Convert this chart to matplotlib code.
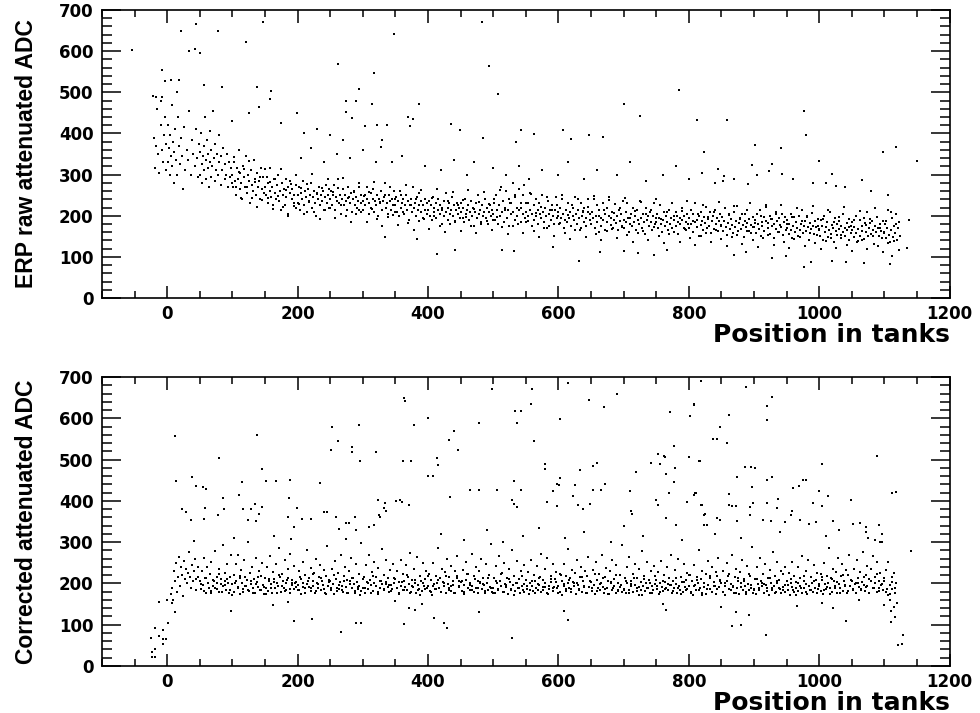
import matplotlib
matplotlib.use('Agg')
import matplotlib.pyplot as plt
from matplotlib.ticker import MultipleLocator

# ---- top panel: raw attenuated ADC vs position ----
top_bins = [
    ([-22, -20, -18, -17, -15, -14, -12, -10, -9, -8, -6, -5, -3, -2, -1],
     [490, 390, 315, 370, 460, 350, 305, 420, 480, 360, 330, 395, 440, 375, 310]),
    ([1, 2, 3, 4, 5, 6, 7, 8, 9, 10, 11, 12, 14, 15, 17, 18, 20, 21, 23, 24, 26, 28, 30, 32, 34, 36, 38, 40, 42, 44, 46, 48, 49],
     [330, 420, 365, 300, 395, 345, 470, 320, 380, 355, 280, 410, 335, 300, 440, 370, 325, 390, 345, 265, 415, 310, 360, 335, 455, 300, 385, 350, 320, 410, 340, 295, 375]),
    ([50, 51, 52, 53, 54, 55, 56, 57, 58, 59, 60, 61, 62, 63, 64, 65, 66, 67, 68, 69, 70, 72, 73, 74, 75, 76, 78, 79, 80, 82, 83, 84, 86, 88, 89, 90, 92, 93, 95, 96, 98, 99],
     [355, 300, 400, 325, 280, 345, 370, 310, 440, 290, 335, 385, 315, 350, 270, 405, 330, 295, 360, 320, 455, 340, 285, 375, 310, 350, 300, 395, 330, 275, 345, 310, 365, 290, 325, 300, 350, 270, 330, 295, 315, 280]),
    ([100, 101, 103, 104, 105, 107, 108, 110, 111, 112, 114, 115, 117, 118, 120, 121, 123, 124, 126, 127, 129, 130, 132, 133, 135, 136, 138, 140, 141, 143, 144, 146, 147, 149],
     [300, 270, 330, 285, 250, 315, 290, 360, 265, 305, 280, 240, 320, 295, 270, 345, 255, 300, 285, 230, 310, 275, 260, 335, 290, 250, 305, 270, 285, 240, 315, 265, 295, 255]),
    ([150, 151, 153, 154, 155, 157, 158, 160, 161, 162, 164, 165, 167, 168, 170, 171, 173, 174, 176, 177, 179, 180, 182, 183, 185, 186, 188, 189, 191, 192, 194, 195, 197, 198],
     [270, 250, 295, 230, 280, 260, 315, 245, 270, 225, 290, 255, 240, 275, 300, 235, 260, 215, 280, 250, 265, 225, 290, 245, 270, 200, 255, 285, 240, 265, 230, 250, 275, 220]),
    ([200, 201, 203, 204, 206, 207, 209, 210, 212, 213, 215, 216, 218, 219, 221, 222, 224, 225, 227, 228, 230, 231, 233, 234, 236, 237, 239, 240, 242, 243, 245, 246, 248, 249],
     [250, 230, 270, 215, 255, 240, 285, 225, 260, 245, 210, 265, 235, 250, 280, 220, 245, 260, 230, 200, 255, 240, 270, 225, 250, 235, 260, 215, 245, 275, 230, 250, 220, 265]),
    ([250, 252, 253, 255, 256, 258, 259, 261, 262, 264, 265, 267, 268, 270, 271, 273, 274, 276, 277, 279, 280, 282, 283, 285, 286, 288, 289, 291, 292, 294, 295, 297, 298],
     [240, 260, 225, 250, 275, 215, 245, 235, 290, 230, 250, 205, 240, 265, 225, 250, 235, 215, 270, 245, 230, 255, 210, 240, 260, 225, 245, 220, 235, 270, 215, 250, 230]),
    ([300, 301, 303, 304, 306, 307, 309, 310, 312, 313, 315, 316, 318, 319, 321, 322, 324, 325, 327, 328, 330, 331, 333, 334, 336, 337, 339, 340, 342, 343, 345, 346, 348, 349],
     [235, 215, 250, 225, 270, 240, 205, 230, 255, 220, 240, 265, 210, 235, 225, 250, 200, 240, 230, 260, 215, 235, 245, 280, 220, 230, 205, 250, 235, 215, 240, 225, 260, 210]),
    ([350, 351, 353, 354, 356, 357, 359, 360, 362, 363, 365, 366, 368, 369, 371, 372, 374, 375, 377, 378, 380, 381, 383, 384, 386, 387, 389, 390, 392, 393, 395, 396, 398, 399],
     [225, 245, 210, 235, 200, 260, 220, 230, 240, 205, 225, 250, 215, 235, 190, 225, 240, 210, 270, 220, 230, 200, 245, 215, 225, 255, 210, 235, 195, 225, 240, 215, 230, 205]),
    ([400, 401, 403, 404, 406, 407, 409, 410, 412, 413, 415, 416, 418, 419, 421, 422, 424, 425, 427, 428, 430, 431, 433, 434, 436, 437, 439, 440, 442, 443, 445, 446, 448, 449],
     [215, 235, 200, 225, 190, 245, 210, 220, 230, 195, 215, 240, 205, 225, 180, 215, 235, 200, 255, 210, 220, 190, 230, 205, 215, 245, 200, 225, 185, 215, 230, 205, 220, 195]),
    ([450, 451, 453, 454, 456, 457, 459, 460, 462, 463, 465, 466, 468, 469, 471, 472, 474, 475, 477, 478, 480, 481, 483, 484, 486, 487, 489, 490, 492, 493, 495, 496, 498, 499],
     [210, 230, 195, 220, 185, 240, 205, 215, 225, 190, 210, 235, 200, 220, 175, 210, 230, 195, 250, 205, 215, 185, 225, 200, 210, 240, 195, 220, 180, 210, 225, 200, 215, 190]),
    ([500, 501, 503, 504, 506, 507, 509, 510, 512, 513, 515, 516, 518, 519, 521, 522, 524, 525, 527, 528, 530, 531, 533, 534, 536, 537, 539, 540, 542, 543, 545, 546, 548, 549],
     [205, 230, 190, 250, 215, 180, 225, 200, 270, 210, 235, 185, 220, 260, 195, 215, 240, 175, 230, 205, 280, 210, 190, 245, 220, 200, 265, 215, 185, 230, 250, 205, 275, 195]),
    ([550, 551, 553, 554, 556, 557, 559, 560, 562, 563, 565, 566, 568, 569, 571, 572, 574, 575, 577, 578, 580, 581, 583, 584, 586, 587, 589, 590, 592, 593, 595, 596, 598, 599],
     [210, 185, 230, 200, 255, 215, 175, 205, 225, 190, 240, 200, 215, 180, 230, 205, 195, 250, 210, 185, 220, 200, 170, 235, 205, 215, 190, 225, 200, 180, 215, 245, 195, 210]),
    ([600, 601, 603, 604, 606, 607, 609, 610, 612, 613, 615, 616, 618, 619, 621, 622, 624, 625, 627, 628, 630, 631, 633, 634, 636, 637, 639, 640, 642, 643, 645, 646, 648, 649],
     [200, 180, 220, 195, 240, 205, 170, 190, 215, 185, 230, 195, 210, 175, 225, 200, 190, 245, 205, 180, 215, 195, 165, 230, 200, 210, 185, 220, 195, 175, 210, 240, 190, 205]),
    ([650, 651, 653, 654, 656, 657, 659, 660, 662, 663, 665, 666, 668, 669, 671, 672, 674, 675, 677, 678, 680, 681, 683, 684, 686, 687, 689, 690, 692, 693, 695, 696, 698, 699],
     [180, 210, 195, 240, 170, 200, 225, 185, 160, 215, 195, 175, 230, 190, 205, 165, 220, 185, 200, 245, 178, 195, 210, 170, 190, 228, 182, 200, 165, 215, 188, 205, 172, 235]),
    ([700, 701, 703, 704, 706, 707, 709, 710, 712, 713, 715, 716, 718, 719, 721, 722, 724, 725, 727, 728, 730, 731, 733, 734, 736, 737, 739, 740, 742, 743, 745, 746, 748, 749],
     [190, 170, 210, 185, 230, 195, 160, 180, 205, 175, 220, 185, 200, 165, 215, 190, 180, 235, 195, 170, 205, 185, 155, 220, 190, 200, 175, 210, 185, 165, 200, 230, 180, 195]),
    ([750, 751, 753, 754, 756, 757, 759, 760, 762, 763, 765, 766, 768, 769, 771, 772, 774, 775, 777, 778, 780, 781, 783, 784, 786, 787, 789, 790, 792, 793, 795, 796, 798, 799],
     [185, 205, 170, 195, 225, 180, 160, 190, 210, 175, 200, 185, 165, 215, 180, 195, 230, 170, 190, 200, 175, 210, 185, 155, 195, 180, 220, 190, 170, 200, 185, 165, 205, 180]),
    ([800, 801, 803, 804, 806, 807, 809, 810, 812, 813, 815, 816, 818, 819, 821, 822, 824, 825, 827, 828, 830, 831, 833, 834, 836, 837, 839, 840, 842, 843, 845, 846, 848, 849],
     [195, 170, 215, 180, 160, 205, 185, 230, 172, 190, 150, 200, 178, 210, 188, 165, 198, 182, 222, 170, 192, 176, 208, 158, 186, 200, 168, 215, 180, 195, 162, 188, 205, 174]),
    ([850, 851, 853, 854, 856, 857, 859, 860, 862, 863, 865, 866, 868, 869, 871, 872, 874, 875, 877, 878, 880, 881, 883, 884, 886, 887, 889, 890, 892, 893, 895, 896, 898, 899],
     [178, 198, 163, 188, 218, 173, 153, 183, 203, 168, 193, 178, 158, 208, 173, 188, 223, 163, 183, 193, 168, 203, 178, 148, 188, 173, 213, 183, 163, 193, 178, 158, 198, 173]),
    ([900, 901, 903, 904, 906, 907, 909, 910, 912, 913, 915, 916, 918, 919, 921, 922, 924, 925, 927, 928, 930, 931, 933, 934, 936, 937, 939, 940, 942, 943, 945, 946, 948, 949],
     [172, 190, 158, 205, 180, 168, 215, 150, 185, 176, 198, 162, 188, 225, 170, 182, 155, 200, 175, 192, 145, 180, 210, 168, 186, 160, 195, 178, 172, 205, 152, 184, 198, 166]),
    ([950, 951, 953, 954, 956, 957, 959, 960, 962, 963, 965, 966, 968, 969, 971, 972, 974, 975, 977, 978, 980, 981, 983, 984, 986, 987, 989, 990, 992, 993, 995, 996, 998, 999],
     [170, 190, 155, 180, 205, 165, 145, 175, 198, 160, 185, 170, 150, 200, 165, 180, 215, 158, 176, 188, 162, 196, 172, 140, 182, 168, 206, 176, 155, 188, 172, 152, 192, 166]),
    ([1000, 1001, 1003, 1004, 1006, 1007, 1009, 1010, 1012, 1013, 1015, 1016, 1018, 1019, 1021, 1022, 1024, 1025, 1027, 1028, 1030, 1031, 1033, 1034, 1036, 1037, 1039, 1040, 1042, 1043, 1045, 1046, 1048, 1049],
     [168, 150, 190, 175, 140, 200, 160, 172, 185, 148, 165, 210, 155, 178, 170, 135, 195, 162, 180, 152, 168, 188, 145, 175, 160, 205, 170, 150, 182, 165, 142, 192, 158, 174]),
    ([1050, 1051, 1053, 1054, 1056, 1057, 1059, 1060, 1062, 1063, 1065, 1066, 1068, 1069, 1071, 1072, 1074, 1075, 1077, 1078, 1080, 1081, 1083, 1084, 1086, 1087, 1089, 1090, 1092, 1093, 1095, 1096, 1098, 1099],
     [165, 185, 148, 172, 200, 158, 138, 168, 190, 150, 175, 162, 143, 195, 160, 178, 210, 150, 170, 182, 155, 188, 165, 132, 176, 160, 198, 170, 150, 180, 164, 145, 186, 158]),
    ([1100, 1101, 1103, 1104, 1106, 1107, 1109, 1110, 1112, 1113, 1115, 1116, 1118, 1119, 1121, 1122, 1124],
     [160, 180, 145, 170, 215, 152, 135, 165, 195, 148, 175, 158, 205, 142, 170, 185, 150]),
]

# wider spread of the band
top_fill = [
    (102, 342), (106, 269), (110, 307), (114, 243), (118, 314), (122, 270), (126, 334), (130, 242),
    (134, 283), (138, 222), (142, 295), (146, 239), (150, 313), (154, 242), (158, 281), (162, 217),
    (166, 290), (170, 247), (174, 313), (178, 221), (182, 263), (186, 204), (190, 278), (194, 224),
    (198, 299), (202, 228), (206, 267), (210, 204), (214, 277), (218, 234), (222, 301), (226, 210),
    (230, 252), (234, 193), (238, 267), (242, 214), (246, 289), (250, 218), (254, 257), (258, 194),
    (262, 268), (266, 225), (270, 291), (274, 200), (278, 242), (282, 184), (286, 258), (290, 204),
    (294, 279), (298, 208), (302, 248), (306, 185), (310, 258), (314, 216), (318, 282), (322, 191),
    (326, 234), (330, 175), (334, 250), (338, 196), (342, 271), (346, 201), (350, 240), (354, 177),
    (358, 250), (362, 208), (366, 274), (370, 183), (374, 225), (378, 166), (382, 241), (386, 187),
    (390, 262), (394, 191), (398, 230), (402, 168), (406, 242), (410, 199), (414, 266), (418, 176),
    (422, 218), (426, 160), (430, 235), (434, 181), (438, 257), (442, 187), (446, 226), (450, 164),
    (454, 238), (458, 196), (462, 263), (466, 174), (470, 217), (474, 159), (478, 234), (482, 181),
    (486, 257), (490, 188), (494, 228), (498, 166), (502, 240), (506, 197), (510, 263), (514, 172),
    (518, 214), (522, 156), (526, 230), (530, 176), (534, 251), (538, 180), (542, 220), (546, 157),
    (550, 230), (554, 188), (558, 254), (562, 164), (566, 206), (570, 148), (574, 222), (578, 169),
    (582, 245), (586, 174), (590, 214), (594, 151), (598, 225), (602, 183), (606, 250), (610, 159),
    (614, 202), (618, 144), (622, 219), (626, 165), (630, 241), (634, 171), (638, 211), (642, 148),
    (646, 222), (650, 180), (654, 247), (658, 156), (662, 199), (666, 141), (670, 215), (674, 162),
    (678, 238), (682, 167), (686, 207), (690, 145), (694, 218), (698, 176), (702, 243), (706, 153),
    (710, 195), (714, 137), (718, 212), (722, 159), (726, 234), (730, 164), (734, 204), (738, 142),
    (742, 215), (746, 173), (750, 240), (754, 150), (758, 192), (762, 134), (766, 208), (770, 155),
    (774, 230), (778, 160), (782, 200), (786, 137), (790, 211), (794, 168), (798, 235), (802, 145),
    (806, 188), (810, 130), (814, 204), (818, 151), (822, 227), (826, 157), (830, 197), (834, 135),
    (838, 208), (842, 166), (846, 233), (850, 143), (854, 186), (858, 127), (862, 202), (866, 149),
    (870, 224), (874, 154), (878, 194), (882, 132), (886, 205), (890, 163), (894, 230), (898, 140),
    (902, 183), (906, 125), (910, 199), (914, 146), (918, 222), (922, 152), (926, 191), (930, 129),
    (934, 203), (938, 161), (942, 227), (946, 137), (950, 180), (954, 122), (958, 196), (962, 143),
    (966, 219), (970, 148), (974, 188), (978, 126), (982, 199), (986, 157), (990, 224), (994, 133),
    (998, 176), (1002, 118), (1006, 193), (1010, 139), (1014, 215), (1018, 145), (1022, 185), (1026, 122),
    (1030, 196), (1034, 154), (1038, 221), (1042, 130), (1046, 173), (1050, 115), (1054, 190), (1058, 137),
    (1062, 212), (1066, 142), (1070, 182), (1074, 119), (1078, 193), (1082, 151), (1086, 218), (1090, 127),
    (1094, 170), (1098, 112), (1102, 187), (1106, 134), (1110, 209), (1114, 139), (1118, 179), (1122, 116),
]

top_outliers = [
    (44, 667), (21, 650), (78, 650), (121, 621), (34, 600), (42, 605), (50, 595), (147, 672),
    (-8, 553), (-3, 527), (6, 529), (18, 529), (15, 500), (-54, 602), (-17, 488), (-8, 488),
    (262, 568), (317, 546), (294, 507), (160, 502), (158, 483), (138, 514), (84, 514), (57, 517),
    (199, 449), (141, 464), (275, 451), (290, 478), (275, 478), (284, 437), (304, 417), (322, 420),
    (337, 420), (314, 471), (348, 641), (483, 672), (494, 563), (508, 495), (387, 471), (370, 439),
    (377, 434), (373, 417), (436, 422), (449, 408), (485, 388), (535, 379), (543, 408), (563, 398),
    (607, 408), (620, 386), (647, 396), (669, 391), (701, 471), (725, 442), (785, 505), (813, 432),
    (824, 354), (330, 383), (328, 366), (859, 432), (977, 454), (979, 395), (902, 371), (942, 364),
    (1000, 332), (1118, 366), (1150, 334), (1098, 354), (897, 323), (928, 325), (923, 308), (943, 301),
    (1020, 301), (854, 296), (853, 284), (845, 313), (1066, 288), (891, 276), (991, 279), (1011, 279),
    (1025, 272), (1137, 189),
    (100, 430), (125, 450), (175, 425), (210, 400), (230, 410), (250, 395), (270, 385),
    (205, 340), (220, 365), (240, 330), (260, 350), (280, 340), (300, 360), (320, 330),
    (345, 330), (360, 345), (395, 320), (420, 310), (440, 335), (460, 300), (470, 330), (500, 315),
    (520, 300), (540, 320), (555, 290), (575, 310), (600, 300), (615, 330), (640, 290), (660, 310),
    (690, 300), (710, 330), (735, 285), (760, 300), (780, 320), (800, 290), (820, 305), (840, 280),
    (870, 290), (905, 300), (960, 290), (1040, 270), (1080, 260), (1105, 250),
    (414, 107), (632, 90), (441, 116), (592, 124), (514, 116), (532, 114), (747, 104), (701, 114),
    (722, 109), (767, 116), (664, 112), (383, 143), (334, 148), (1135, 121), (1109, 82), (977, 75),
    (988, 87), (928, 97), (949, 102), (1020, 90), (1041, 87), (1069, 85), (1112, 102), (870, 104),
    (888, 112),
]

# ---- bottom panel: corrected attenuated ADC vs position ----
bot_bins = [
    ([6, 8, 9, 11, 12, 14, 15, 17, 18, 20, 21, 23, 24, 26, 27, 29, 30, 32, 33, 35, 36, 38, 39, 41, 42, 44, 45, 47, 48],
     [175, 190, 160, 230, 205, 250, 180, 215, 265, 195, 240, 220, 170, 255, 210, 235, 200, 225, 275, 215, 190, 245, 205, 230, 260, 210, 185, 240, 215]),
    ([50, 52, 53, 55, 56, 58, 59, 61, 62, 64, 65, 67, 68, 70, 71, 73, 74, 76, 77, 79, 80, 82, 83, 85, 86, 88, 89, 91, 92, 94, 95, 97, 98],
     [205, 186, 231, 196, 262, 212, 178, 241, 201, 190, 223, 182, 252, 208, 195, 278, 188, 216, 200, 236, 180, 211, 198, 292, 193, 226, 205, 185, 246, 201, 176, 216, 268]),
    ([100, 102, 103, 105, 106, 108, 109, 111, 112, 114, 115, 117, 118, 120, 121, 123, 124, 126, 127, 129, 130, 132, 133, 135, 136, 138, 139, 141, 142, 144, 145, 147, 148],
     [198, 221, 180, 246, 205, 191, 270, 213, 175, 232, 200, 186, 256, 215, 194, 208, 301, 182, 225, 198, 241, 188, 210, 178, 262, 203, 192, 230, 185, 218, 250, 196, 174]),
    ([150, 152, 153, 155, 156, 158, 159, 161, 162, 164, 165, 167, 168, 170, 171, 173, 174, 176, 177, 179, 180, 182, 183, 185, 186, 188, 189, 191, 192, 194, 195, 197, 198],
     [212, 190, 240, 182, 205, 266, 198, 176, 228, 210, 188, 248, 202, 194, 285, 216, 180, 222, 206, 190, 258, 184, 200, 236, 214, 178, 272, 196, 208, 186, 242, 204, 192]),
    ([200, 202, 203, 205, 206, 208, 209, 211, 212, 214, 215, 217, 218, 220, 221, 223, 224, 226, 227, 229, 230, 232, 233, 235, 236, 238, 239, 241, 242, 244, 245, 247, 248],
     [196, 230, 184, 210, 175, 252, 202, 188, 220, 198, 280, 192, 214, 181, 238, 206, 195, 226, 178, 260, 200, 189, 215, 245, 183, 207, 197, 232, 176, 218, 290, 194, 209]),
    ([250, 252, 253, 255, 256, 258, 259, 261, 262, 264, 265, 267, 268, 270, 271, 273, 274, 276, 277, 279, 280, 282, 283, 285, 286, 288, 289, 291, 292, 294, 295, 297, 298],
     [207, 183, 236, 199, 174, 255, 211, 190, 226, 186, 203, 270, 195, 180, 218, 240, 192, 209, 177, 231, 205, 262, 188, 214, 198, 178, 248, 203, 186, 222, 194, 298, 181]),
    ([300, 302, 303, 305, 306, 308, 309, 311, 312, 314, 315, 317, 318, 320, 321, 323, 324, 326, 327, 329, 330, 332, 333, 335, 336, 338, 339, 341, 342, 344, 345, 347, 348],
     [190, 215, 178, 244, 203, 186, 268, 209, 197, 227, 181, 252, 200, 193, 216, 175, 238, 206, 188, 284, 198, 221, 183, 204, 257, 192, 212, 179, 233, 196, 187, 246, 201]),
    ([350, 352, 353, 355, 356, 358, 359, 361, 362, 364, 365, 367, 368, 370, 371, 373, 374, 376, 377, 379, 380, 382, 383, 385, 386, 388, 389, 391, 392, 394, 395, 397, 398],
     [210, 188, 229, 176, 203, 258, 194, 183, 222, 206, 191, 245, 185, 215, 198, 274, 180, 209, 192, 236, 201, 178, 263, 196, 187, 218, 205, 182, 250, 193, 211, 230, 189]),
    ([400, 402, 403, 405, 406, 408, 409, 411, 412, 414, 415, 417, 418, 420, 421, 423, 424, 426, 427, 429, 430, 432, 433, 435, 436, 438, 439, 441, 442, 444, 445, 447, 448],
     [195, 224, 182, 208, 173, 249, 199, 187, 218, 202, 286, 190, 213, 180, 235, 204, 194, 227, 176, 259, 198, 188, 216, 243, 181, 206, 196, 231, 177, 219, 266, 193, 207]),
    ([450, 452, 453, 455, 456, 458, 459, 461, 462, 464, 465, 467, 468, 470, 471, 473, 474, 476, 477, 479, 480, 482, 483, 485, 486, 488, 489, 491, 492, 494, 495, 497, 498],
     [204, 182, 233, 197, 175, 253, 209, 189, 224, 185, 201, 272, 193, 179, 217, 239, 190, 207, 176, 230, 203, 260, 186, 212, 196, 177, 247, 201, 185, 221, 192, 295, 180]),
    ([500, 502, 503, 505, 506, 508, 509, 511, 512, 514, 515, 517, 518, 520, 521, 523, 524, 526, 527, 529, 530, 532, 533, 535, 536, 538, 539, 541, 542, 544, 545, 547, 548],
     [188, 213, 177, 242, 201, 185, 266, 207, 195, 225, 180, 250, 198, 191, 214, 174, 236, 204, 186, 281, 196, 219, 182, 202, 255, 190, 210, 178, 231, 194, 185, 244, 199]),
    ([550, 552, 553, 555, 556, 558, 559, 561, 562, 564, 565, 567, 568, 570, 571, 573, 574, 576, 577, 579, 580, 582, 583, 585, 586, 588, 589, 591, 592, 594, 595, 597, 598],
     [209, 187, 228, 175, 202, 256, 193, 182, 221, 205, 190, 243, 184, 214, 197, 271, 179, 208, 191, 234, 200, 177, 261, 195, 186, 217, 204, 181, 248, 192, 210, 228, 188]),
    ([600, 602, 603, 605, 606, 608, 609, 611, 612, 614, 615, 617, 618, 620, 621, 623, 624, 626, 627, 629, 630, 632, 633, 635, 636, 638, 639, 641, 642, 644, 645, 647, 648],
     [194, 222, 180, 207, 173, 247, 198, 186, 217, 201, 283, 189, 212, 179, 233, 203, 193, 225, 175, 257, 197, 187, 215, 241, 180, 205, 195, 229, 176, 218, 264, 192, 206]),
    ([650, 652, 653, 655, 656, 658, 659, 661, 662, 664, 665, 667, 668, 670, 671, 673, 674, 676, 677, 679, 680, 682, 683, 685, 686, 688, 689, 691, 692, 694, 695, 697, 698],
     [203, 181, 232, 196, 174, 251, 208, 188, 223, 184, 200, 270, 192, 178, 216, 237, 189, 206, 175, 229, 202, 258, 185, 211, 195, 176, 245, 200, 184, 220, 191, 292, 179]),
    ([700, 702, 703, 705, 706, 708, 709, 711, 712, 714, 715, 717, 718, 720, 721, 723, 724, 726, 727, 729, 730, 732, 733, 735, 736, 738, 739, 741, 742, 744, 745, 747, 748],
     [187, 212, 176, 240, 200, 184, 264, 206, 194, 224, 179, 248, 197, 190, 213, 173, 234, 203, 185, 279, 195, 218, 181, 201, 253, 189, 209, 177, 230, 193, 184, 242, 198]),
    ([750, 752, 753, 755, 756, 758, 759, 761, 762, 764, 765, 767, 768, 770, 771, 773, 774, 776, 777, 779, 780, 782, 783, 785, 786, 788, 789, 791, 792, 794, 795, 797, 798],
     [208, 186, 227, 174, 201, 254, 192, 181, 220, 204, 189, 241, 183, 213, 196, 268, 178, 207, 190, 232, 199, 176, 259, 194, 185, 216, 203, 180, 246, 191, 209, 226, 187]),
    ([800, 802, 803, 805, 806, 808, 809, 811, 812, 814, 815, 817, 818, 820, 821, 823, 824, 826, 827, 829, 830, 832, 833, 835, 836, 838, 839, 841, 842, 844, 845, 847, 848],
     [193, 221, 179, 206, 172, 245, 197, 185, 216, 200, 281, 188, 211, 178, 231, 202, 192, 224, 174, 255, 196, 186, 214, 239, 179, 204, 194, 228, 175, 217, 262, 191, 205]),
    ([850, 852, 853, 855, 856, 858, 859, 861, 862, 864, 865, 867, 868, 870, 871, 873, 874, 876, 877, 879, 880, 882, 883, 885, 886, 888, 889, 891, 892, 894, 895, 897, 898],
     [202, 180, 231, 195, 173, 249, 207, 187, 222, 183, 199, 268, 191, 177, 215, 236, 188, 205, 174, 228, 201, 256, 184, 210, 194, 175, 243, 199, 183, 219, 190, 289, 178]),
    ([900, 902, 903, 905, 906, 908, 909, 911, 912, 914, 915, 917, 918, 920, 921, 923, 924, 926, 927, 929, 930, 932, 933, 935, 936, 938, 939, 941, 942, 944, 945, 947, 948],
     [186, 211, 175, 239, 199, 183, 262, 205, 193, 223, 178, 246, 196, 189, 212, 172, 233, 202, 184, 277, 194, 217, 180, 200, 251, 188, 208, 176, 229, 192, 183, 240, 197]),
    ([950, 952, 953, 955, 956, 958, 959, 961, 962, 964, 965, 967, 968, 970, 971, 973, 974, 976, 977, 979, 980, 982, 983, 985, 986, 988, 989, 991, 992, 994, 995, 997, 998],
     [207, 185, 226, 173, 200, 252, 191, 180, 219, 203, 188, 240, 182, 212, 195, 266, 177, 206, 189, 231, 198, 175, 257, 193, 184, 215, 202, 179, 244, 190, 208, 225, 186]),
    ([1000, 1002, 1003, 1005, 1006, 1008, 1009, 1011, 1012, 1014, 1015, 1017, 1018, 1020, 1021, 1023, 1024, 1026, 1027, 1029, 1030, 1032, 1033, 1035, 1036, 1038, 1039, 1041, 1042, 1044, 1045, 1047, 1048],
     [195, 223, 181, 208, 174, 250, 199, 187, 219, 202, 285, 190, 214, 180, 236, 205, 194, 228, 176, 262, 199, 188, 217, 246, 181, 207, 197, 233, 177, 221, 270, 194, 209]),
    ([1050, 1052, 1053, 1055, 1056, 1058, 1059, 1061, 1062, 1064, 1065, 1067, 1068, 1070, 1071, 1073, 1074, 1076, 1077, 1079, 1080, 1082, 1083, 1085, 1086, 1088, 1089, 1091, 1092, 1094, 1095, 1097, 1098],
     [206, 184, 236, 199, 176, 258, 212, 191, 228, 187, 204, 276, 196, 181, 221, 243, 193, 211, 178, 236, 207, 266, 190, 216, 200, 180, 252, 206, 189, 226, 197, 300, 184]),
    ([1100, 1102, 1103, 1105, 1106, 1108, 1109, 1111, 1112, 1114, 1115, 1117, 1118, 1120],
     [205, 180, 232, 172, 252, 196, 160, 215, 186, 142, 226, 176, 200, 152]),
]

# dense core of the corrected band (170-225)
bot_fill_x = [
    52, 56, 60, 64, 68, 72, 76, 80, 84, 88, 92, 96, 100, 104, 108, 112, 116, 120,
    124, 128, 132, 136, 140, 144, 148, 152, 156, 160, 164, 168, 172, 176, 180, 184, 188, 192,
    196, 200, 204, 208, 212, 216, 220, 224, 228, 232, 236, 240, 244, 248, 252, 256, 260, 264,
    268, 272, 276, 280, 284, 288, 292, 296, 300, 304, 308, 312, 316, 320, 324, 328, 332, 336,
    340, 344, 348, 352, 356, 360, 364, 368, 372, 376, 380, 384, 388, 392, 396, 400, 404, 408,
    412, 416, 420, 424, 428, 432, 436, 440, 444, 448, 452, 456, 460, 464, 468, 472, 476, 480,
    484, 488, 492, 496, 500, 504, 508, 512, 516, 520, 524, 528, 532, 536, 540, 544, 548, 552,
    556, 560, 564, 568, 572, 576, 580, 584, 588, 592, 596, 600, 604, 608, 612, 616, 620, 624,
    628, 632, 636, 640, 644, 648, 652, 656, 660, 664, 668, 672, 676, 680, 684, 688, 692, 696,
    700, 704, 708, 712, 716, 720, 724, 728, 732, 736, 740, 744, 748, 752, 756, 760, 764, 768,
    772, 776, 780, 784, 788, 792, 796, 800, 804, 808, 812, 816, 820, 824, 828, 832, 836, 840,
    844, 848, 852, 856, 860, 864, 868, 872, 876, 880, 884, 888, 892, 896, 900, 904, 908, 912,
    916, 920, 924, 928, 932, 936, 940, 944, 948, 952, 956, 960, 964, 968, 972, 976, 980, 984,
    988, 992, 996, 1000, 1004, 1008, 1012, 1016, 1020, 1024, 1028, 1032, 1036, 1040, 1044, 1048, 1052, 1056,
    1060, 1064, 1068, 1072, 1076, 1080, 1084, 1088, 1092, 1096, 1100, 1104, 1108, 1112, 1116,
]
bot_fill_y = [
    198, 182, 214, 190, 176, 205, 186, 222, 179, 196, 210, 184, 173, 201, 188, 218, 180, 194,
    185, 207, 178, 199, 215, 183, 192, 174, 211, 189, 203, 177, 220, 195, 181, 208, 187, 200,
    200, 184, 216, 192, 178, 207, 188, 224, 181, 198, 212, 186, 175, 203, 190, 220, 182, 196,
    184, 206, 177, 198, 214, 182, 191, 173, 210, 188, 202, 176, 219, 194, 180, 207, 186, 199,
    197, 181, 213, 189, 175, 204, 185, 221, 178, 195, 209, 183, 172, 200, 187, 217, 179, 193,
    187, 209, 180, 201, 217, 185, 194, 176, 213, 191, 205, 179, 222, 197, 183, 210, 189, 202,
    198, 182, 214, 190, 176, 205, 186, 222, 179, 196, 210, 184, 173, 201, 188, 218, 180, 194,
    185, 207, 178, 199, 215, 183, 192, 174, 211, 189, 203, 177, 220, 195, 181, 208, 187, 200,
    200, 184, 216, 192, 178, 207, 188, 224, 181, 198, 212, 186, 175, 203, 190, 220, 182, 196,
    184, 206, 177, 198, 214, 182, 191, 173, 210, 188, 202, 176, 219, 194, 180, 207, 186, 199,
    197, 181, 213, 189, 175, 204, 185, 221, 178, 195, 209, 183, 172, 200, 187, 217, 179, 193,
    187, 209, 180, 201, 217, 185, 194, 176, 213, 191, 205, 179, 222, 197, 183, 210, 189, 202,
    198, 182, 214, 190, 176, 205, 186, 222, 179, 196, 210, 184, 173, 201, 188, 218, 180, 194,
    185, 207, 178, 199, 215, 183, 192, 174, 211, 189, 203, 177, 220, 195, 181, 208, 187, 200,
    200, 184, 216, 192, 178, 207, 188, 224, 181, 198, 212, 186, 175, 203, 190,
]

bot_outliers = [
    (12, 557), (138, 559), (253, 579), (294, 584), (262, 545), (251, 523), (284, 530), (284, 518),
    (296, 496), (320, 518), (80, 504), (146, 477), (14, 448), (38, 458), (44, 436), (55, 434),
    (60, 429), (115, 446), (152, 448), (167, 448), (189, 450), (235, 443), (86, 407), (110, 414),
    (23, 380), (29, 373), (58, 383), (37, 354), (57, 356), (78, 366), (87, 380), (117, 380),
    (129, 380), (135, 392), (141, 368), (124, 354), (136, 351), (146, 385), (187, 407), (186, 361),
    (195, 337), (199, 383), (207, 356), (221, 356), (241, 373), (245, 373), (259, 361), (275, 346),
    (279, 346), (288, 361), (264, 332), (290, 329), (275, 308), (310, 337), (318, 341), (324, 402),
    (333, 383), (334, 395), (327, 361), (164, 315), (190, 308), (103, 310), (41, 303),
    (98, 133), (195, 109), (222, 114), (267, 82), (290, 104), (298, 104), (186, 155), (163, 148),
    (12, 131), (-12, 155), (2, 104), (-18, 92), (-25, 68), (-12, 73), (-6, 65), (-2, 65),
    (-6, 87), (-6, 53), (-18, 41), (-23, 34), (-23, 22), (-18, 22), (8, 152), (0, 160),
    (363, 649), (365, 642), (400, 601), (378, 584), (498, 671), (560, 671), (615, 685), (558, 635),
    (534, 618), (543, 618), (537, 588), (478, 588), (603, 598), (647, 644), (670, 627), (690, 659),
    (771, 615), (802, 605), (808, 635), (818, 690), (440, 569), (432, 547), (446, 523), (563, 545),
    (777, 533), (753, 513), (762, 508), (763, 506), (362, 496), (374, 496), (414, 504), (416, 487),
    (400, 460), (407, 460), (579, 489), (580, 477), (633, 474), (653, 484), (660, 491), (742, 491),
    (756, 489), (779, 479), (817, 496), (801, 506), (765, 465), (777, 446), (719, 470), (603, 455),
    (601, 438), (598, 441), (625, 438), (532, 448), (465, 426), (478, 426), (506, 426), (434, 409),
    (543, 426), (592, 424), (653, 426), (665, 426), (623, 412), (672, 441), (710, 424), (770, 419),
    (810, 419), (351, 400), (357, 402), (360, 397), (334, 395), (336, 375), (325, 366), (371, 390),
    (529, 402), (532, 392), (537, 385), (583, 397), (598, 388), (630, 390), (638, 380), (649, 392),
    (712, 375), (713, 368), (750, 402), (753, 390), (797, 397), (819, 390), (824, 366), (781, 341),
    (765, 358), (824, 341),
    (363, 102), (529, 68), (429, 92), (409, 116), (424, 104), (615, 111), (609, 133), (478, 131),
    (371, 140), (380, 136), (391, 150), (765, 136), (761, 150), (350, 157),
    (888, 676), (928, 652), (920, 630), (920, 596), (808, 632), (862, 608), (848, 579), (837, 550),
    (843, 550), (858, 540), (816, 496), (886, 482), (895, 482), (902, 479), (874, 458), (920, 450),
    (928, 458), (897, 433), (960, 431), (969, 436), (975, 450), (980, 450), (1004, 489), (1089, 509),
    (808, 414), (811, 419), (861, 417), (937, 404), (899, 395), (894, 385), (920, 395), (935, 383),
    (1000, 424), (1014, 412), (991, 395), (1004, 388), (1048, 402), (1112, 419), (1118, 421),
    (861, 390), (866, 388), (872, 388), (821, 390), (825, 368), (843, 358), (828, 341), (848, 353),
    (874, 351), (894, 366), (914, 353), (926, 351), (948, 348), (956, 366), (958, 375), (971, 353),
    (985, 344), (995, 348), (1021, 351), (1052, 344), (1063, 346), (1071, 337), (1092, 341),
    (1097, 320), (1071, 325), (1141, 279), (1086, 305), (1094, 300),
    (420, 320), (455, 305), (490, 330), (515, 300), (545, 315), (570, 335), (610, 310), (640, 325),
    (680, 300), (700, 340), (730, 315), (790, 305), (840, 320), (880, 310), (940, 325), (1010, 315),
    (1030, 330), (1075, 310),
    (850, 143), (873, 131), (866, 97), (880, 99), (918, 75), (893, 124), (1041, 109), (1100, 148),
    (1110, 133), (1116, 119), (1110, 107), (1128, 75), (1121, 51), (1127, 53), (966, 145),
    (1004, 153), (1021, 140), (1061, 160),
]

x_major = 200
x_minor = 50
y_major = 100
y_minor = 20


def collect(bins, *extras):
    xs, ys = [], []
    for bx, by in bins:
        for a, b in zip(bx, by):
            xs.append(a)
            ys.append(b)
    for extra in extras:
        for a, b in extra:
            xs.append(a)
            ys.append(b)
    return xs, ys


plt.rcParams['font.family'] = 'DejaVu Sans'
plt.rcParams['font.weight'] = 'bold'

fig = plt.figure(figsize=(9.8, 7.13), dpi=100)
ax1 = fig.add_axes([0.104, 0.582, 0.865, 0.404])
ax2 = fig.add_axes([0.104, 0.066, 0.865, 0.405])

panels = [
    (ax1, collect(top_bins, top_fill, top_outliers), 'ERP raw attenuated ADC'),
    (ax2, collect(bot_bins, list(zip(bot_fill_x, bot_fill_y)), bot_outliers), 'Corrected attenuated ADC'),
]

for ax, (xs, ys), ylab in panels:
    ax.plot(xs, ys, 's', color='black', ms=1.9, mew=0)
    ax.set_xlim(-100, 1200)
    ax.set_ylim(0, 700)
    ax.xaxis.set_major_locator(MultipleLocator(x_major))
    ax.xaxis.set_minor_locator(MultipleLocator(x_minor))
    ax.yaxis.set_major_locator(MultipleLocator(y_major))
    ax.yaxis.set_minor_locator(MultipleLocator(y_minor))
    ax.tick_params(which='both', direction='in', top=True, right=True,
                   width=1.1, labelsize=12)
    ax.tick_params(axis='x', which='major', length=9, pad=5)
    ax.tick_params(axis='x', which='minor', length=5)
    ax.tick_params(axis='y', which='major', length=14, pad=6)
    ax.tick_params(axis='y', which='minor', length=7)
    for sp in ax.spines.values():
        sp.set_linewidth(1.2)
    ax.set_xlabel('Position in tanks', loc='right', fontsize=18, fontweight='bold')
    ax.set_ylabel(ylab, fontsize=16.5, fontweight='bold', family='Liberation Sans')
    ax.yaxis.set_label_coords(-0.075, 0.5)
    ax.xaxis.set_label_coords(1.0, -0.086)

fig.savefig('out.png', dpi=100)
